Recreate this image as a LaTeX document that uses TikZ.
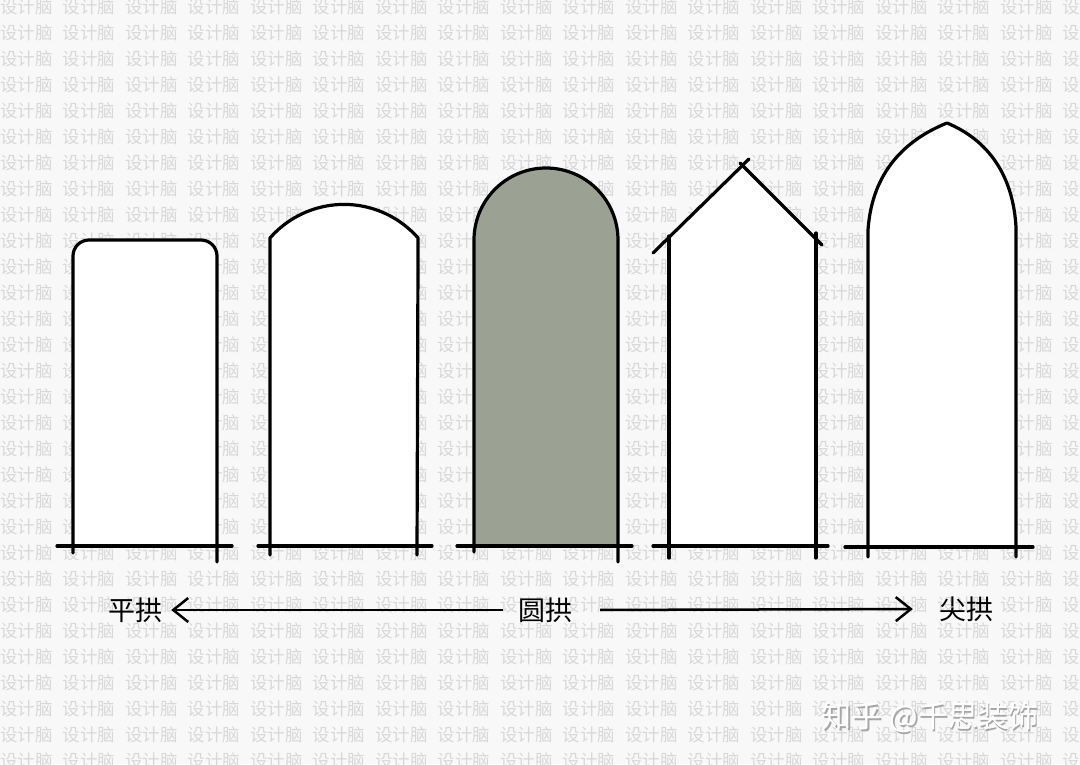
\documentclass[tikz,border=0pt]{standalone}
\usepackage{fontspec}
\newfontfamily\cjk{Noto Sans CJK SC}
\usetikzlibrary{arrows.meta}
\definecolor{paper}{HTML}{F8F8F8}
\definecolor{wmgray}{HTML}{D8D8D8}
\definecolor{sage}{HTML}{9BA293}
\tikzset{
    %Define standard arrow tip
    >={Straight Barb[length=15pt,width=24pt,line width=2.5pt]},
    wm/.style={
      anchor=west, inner sep=0pt,
      text=wmgray,
      font=\cjk\fontsize{17.5}{18}\selectfont},
    arch/.style={
      draw=black, line width=3.2pt,
      line cap=round, line join=round},
    label/.style={
      inner sep=2pt,
      font=\cjk\fontsize{27}{28}\selectfont},
    pointer/.style={
      ->, line width=2.5pt},
    stamp/.style={
      anchor=west, inner sep=0pt,
      font=\cjk\fontsize{30}{32}\selectfont},
}
\begin{document}
\begin{tikzpicture}[x=1pt,y=-1pt]
    \useasboundingbox (0,0) rectangle (1080,764);
    \fill[paper] (0,0) rectangle (1080,764);
    % watermark grid
    \foreach \r in {0,...,29}
      \foreach \c in {0,...,17}
        \node (wm-\r-\c) [wm] at (\c*62.5,7+\r*26) {设计脑};

    % flat arch
    \fill[white] (73,546) [rounded corners=16] -- (73,240) -- (217,240) [sharp corners] -- (217,546) -- cycle;
    \draw[arch] (73,553) [rounded corners=16] -- (73,240) -- (217,240) [sharp corners] -- (217,562);
    \draw[arch] (57,546) -- (232,546);

    % segmental arch
    \fill[white] (270,546) -- (270,238) arc (221.2:318.8:98.4) -- (417,546) -- cycle;
    \draw[arch] (270,555) -- (270,238) arc (221.2:318.8:98.4) -- (417,555);
    \draw[arch] (258,546) -- (432,546);

    % round arch
    \fill[sage] (474,546) -- (474,240) arc (180:360:72) -- (618,546) -- cycle;
    \draw[arch] (474,552) -- (474,240) arc (180:360:72) -- (618,562);
    \draw[arch] (457,546) -- (632,546);

    % gable
    \fill[white] (669,546) -- (669,238) -- (742,163) -- (816,235) -- (816,546) -- cycle;
    \draw[arch] (669,558) -- (669,236);
    \draw[arch] (816,558) -- (816,233);
    \draw[arch] (653,253) -- (749,159);
    \draw[arch] (740,163) -- (822,245);
    \draw[arch] (653,546) -- (828,546);

    % pointed arch
    \fill[white] (868,546) -- (868,230) .. controls (872,172) and (905,140) .. (947,123)
          .. controls (988,140) and (1013,175) .. (1016,227) -- (1016,546) -- cycle;
    \draw[arch] (868,557) -- (868,230) .. controls (872,172) and (905,140) .. (947,123)
          .. controls (988,140) and (1013,175) .. (1016,227) -- (1016,557);
    \draw[arch] (845,547) -- (1033,547);

    % labels
    \node (ping) [label] at (135,610) {平拱};
    \node (yuan) [label] at (545,610) {圆拱};
    \node (jian) [label] at (966,609) {尖拱};
    \draw[pointer, shorten <=13pt, shorten >=7pt] (yuan.west) -- (ping.east);
    \draw[pointer, shorten <=26pt, shorten >=24pt] (yuan.east) -- (jian.west);

    % stamp
    \node (stampshadow) [stamp, text=black!35] at (823,719) {知乎\hspace{8pt}@千思装饰};
    \node (stamptext) [stamp, text=white] at (821.5,717.5) {知乎\hspace{8pt}@千思装饰};
\end{tikzpicture}
\end{document}
